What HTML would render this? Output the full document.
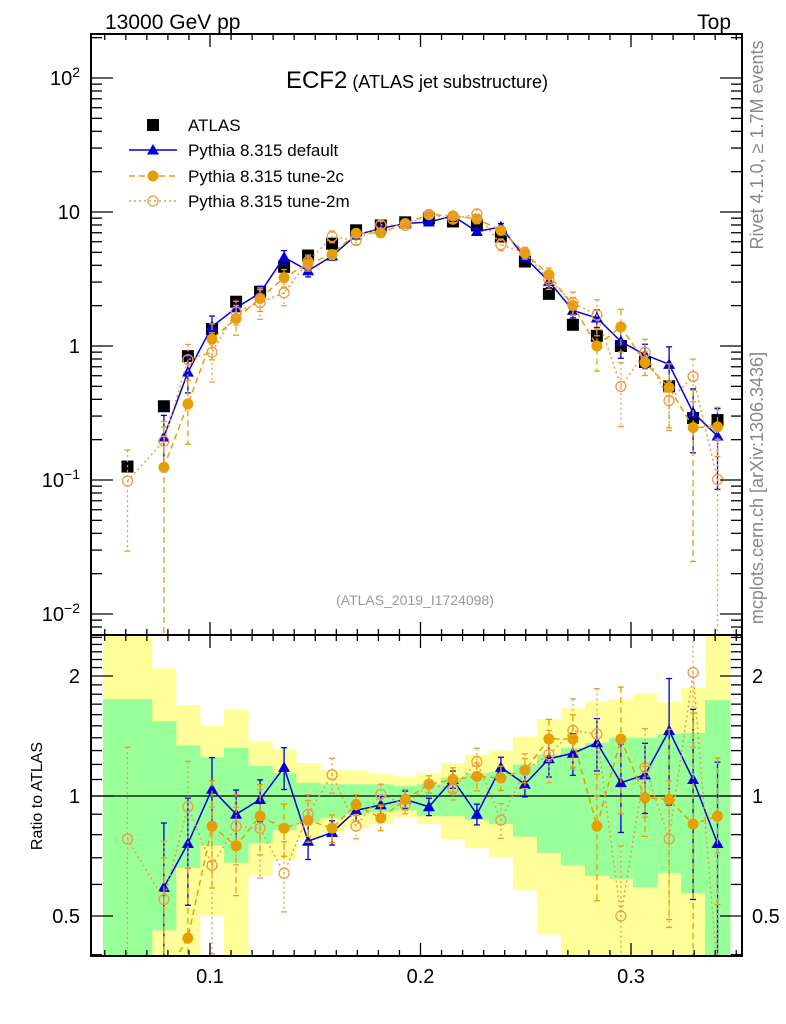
<!DOCTYPE html>
<html><head><meta charset="utf-8"><style>
html,body{margin:0;padding:0;background:#fff;}
svg{display:block;font-family:"Liberation Sans",Arial,sans-serif;}
</style></head><body>
<svg id="chart" width="786" height="1024" viewBox="0 0 786 1024" xmlns="http://www.w3.org/2000/svg">
<defs>
<clipPath id="cm"><rect x="91" y="34" width="651" height="601"/></clipPath>
<clipPath id="cr"><rect x="91" y="635" width="651" height="321"/></clipPath>
</defs>
<g id="bands" clip-path="url(#cr)"></g>
<g id="ratioMarks" clip-path="url(#cr)"></g>
<g id="mainMarks" clip-path="url(#cm)"></g>
<g id="axes"></g>
<text x="105" y="29" font-size="21">13000 GeV pp</text>
<text x="731" y="29" font-size="21" text-anchor="end">Top</text>
<text x="417" y="88" font-size="24" text-anchor="middle">ECF2<tspan font-size="18"> (ATLAS jet substructure)</tspan></text>
<text x="415" y="605" font-size="14" fill="#999" text-anchor="middle">(ATLAS_2019_I1724098)</text>
<text transform="translate(763,145) rotate(-90)" font-size="18" fill="#888" text-anchor="middle">Rivet 4.1.0, ≥ 1.7M events</text>
<text transform="translate(763,488) rotate(-90)" font-size="18" fill="#888" text-anchor="middle">mcplots.cern.ch [arXiv:1306.3436]</text>
<text transform="translate(42,796) rotate(-90)" font-size="16" text-anchor="middle">Ratio to ATLAS</text>
<g id="legend"></g>
</svg>
<script>
const edges=[0.0492,0.0724,0.0838,0.0952,0.1067,0.1181,0.1295,0.1409,0.1523,0.1637,0.1751,0.1872,0.1983,0.2097,0.2211,0.2325,0.2439,0.2553,0.2667,0.2781,0.2895,0.3009,0.3124,0.3238,0.3352,0.3470];
const atlas=[0.126,0.355,0.84,1.34,2.14,2.54,3.9,4.73,5.8,7.3,7.94,8.37,8.95,8.5,7.94,6.56,4.27,2.45,1.44,1.19,1.0,0.76,0.50,0.29,0.28];
const ratioDefault=[null,0.59,0.76,1.04,0.90,0.98,1.18,0.77,0.81,0.92,0.95,0.98,0.94,1.10,0.90,1.18,1.07,1.24,1.28,1.36,1.08,1.13,1.46,1.10,0.76];
const ratio2c=[null,0.35,0.44,0.84,0.75,0.89,0.83,0.87,0.83,0.95,0.88,0.98,1.07,1.10,1.12,1.11,1.16,1.39,1.39,0.84,1.39,0.99,0.98,0.85,0.89];
const ratio2m=[0.78,0.55,0.94,0.67,0.84,0.83,0.64,0.90,1.13,0.84,1.01,0.95,1.07,1.04,1.22,0.87,1.16,1.27,1.46,1.43,0.50,1.18,0.78,2.04,0.36];
const errDefault=[null,0.45,0.3,0.2,0.15,0.12,0.12,0.1,0.07,0.06,0.05,0.05,0.05,0.05,0.06,0.06,0.07,0.1,0.12,0.15,0.25,0.2,0.35,0.5,0.6];
const err2c=[null,1.0,0.5,0.3,0.25,0.2,0.15,0.12,0.08,0.06,0.07,0.06,0.05,0.07,0.08,0.07,0.07,0.12,0.15,0.35,0.35,0.2,0.5,0.9,0.4];
const err2m=[0.7,0.4,0.3,0.4,0.2,0.25,0.2,0.12,0.1,0.07,0.06,0.05,0.05,0.06,0.08,0.1,0.1,0.15,0.2,0.3,0.5,0.25,0.4,0.35,1.0];
const bandInnerHi=[1.75,1.54,1.34,1.25,1.32,1.19,1.14,1.08,1.07,1.07,1.07,1.06,1.07,1.11,1.14,1.15,1.20,1.27,1.32,1.36,1.40,1.40,1.43,1.44,1.74];
const bandInnerLo=[0.3,0.46,0.66,0.75,0.68,0.76,0.82,0.86,0.88,0.90,0.91,0.92,0.89,0.89,0.87,0.85,0.79,0.72,0.67,0.63,0.62,0.59,0.64,0.57,0.3];
const bandOuterHi=[3,2.09,1.69,1.50,1.65,1.37,1.31,1.21,1.16,1.16,1.14,1.12,1.14,1.21,1.27,1.30,1.41,1.56,1.66,1.73,1.75,1.81,1.72,1.87,3];
const bandOuterLo=[0.3,0.3,0.3,0.50,0.3,0.63,0.69,0.78,0.81,0.83,0.85,0.88,0.85,0.78,0.74,0.70,0.58,0.45,0.3,0.3,0.3,0.3,0.3,0.3,0.3];
const mainMajorTicks=[0.01,0.1,1,10,100];
const ratioMajorTicks=[0.5,1,2];
const xMajorTicks=[0.1,0.2,0.3];

const NS="http://www.w3.org/2000/svg";
const X=v=>210+(v-0.1)*2105;
const YM=v=>346-Math.log10(v)*134;
const YR=v=>796-Math.log2(v)*120;
function mk(parent,tag,attrs){const e=document.createElementNS(NS,tag);for(const k in attrs)e.setAttribute(k,attrs[k]);parent.appendChild(e);return e;}
const centers=atlas.map((_,i)=>(edges[i]+edges[i+1])/2);

const gb=document.getElementById('bands');
for(let i=0;i<atlas.length;i++){
  const x0=X(edges[i]),x1=X(edges[i+1]);
  let r=mk(gb,'rect',{x:x0,y:YR(bandOuterHi[i]),width:x1-x0+0.5,height:YR(bandOuterLo[i])-YR(bandOuterHi[i]),fill:'#ffff99'});
  
  
}
for(let i=0;i<atlas.length;i++){
  const x0=X(edges[i]),x1=X(edges[i+1]);
  let r=mk(gb,'rect',{x:x0,y:YR(bandInnerHi[i]),width:x1-x0+0.5,height:YR(bandInnerLo[i])-YR(bandInnerHi[i]),fill:'#99ff99'});
  
  
}
let one=mk(document.getElementById('ratioMarks'),'line',{x1:91,x2:742,y1:YR(1),y2:YR(1),stroke:'#000','stroke-width':1.2});



const series=[
 {name:'default',ratio:ratioDefault,err:errDefault,color:'#0000dd',dash:'',marker:'tri'},
 {name:'tune-2c',ratio:ratio2c,err:err2c,color:'#e69f00',dash:'6,4',marker:'dot'},
 {name:'tune-2m',ratio:ratio2m,err:err2m,color:'#ee9a44',dash:'2,3',marker:'circ'}
];
function marker(g,type,x,y,color,nm){
  let m;
  if(type==='tri')m=mk(g,'path',{d:`M${x},${y-6}L${x+6},${y+4.5}L${x-6},${y+4.5}Z`,fill:color});
  else if(type==='dot')m=mk(g,'circle',{cx:x,cy:y,r:5.5,fill:color});
  else if(type==='circ')m=mk(g,'circle',{cx:x,cy:y,r:5,fill:'none',stroke:color,'stroke-width':1.3});
  else m=mk(g,'rect',{x:x-6,y:y-6,width:12,height:12,fill:'#000'});
  
  
}
function drawSeries(g,Y,valFn,lo,hi,panel){
  series.forEach(s=>{
    const pts=[];
    for(let i=0;i<atlas.length;i++){
      const v=valFn(s,i); if(v==null)continue;
      const x=X(centers[i]),y=Y(v);
      pts.push(x+','+y);
      const e=s.err[i];
      const top=Y(v*(1+e)), bot=(v*(1-e)>lo)?Y(v*(1-e)):Y(lo);
      let eb=mk(g,'line',{x1:x,x2:x,y1:top,y2:bot,stroke:s.color,'stroke-width':1.3,'stroke-dasharray':s.dash});
      
      
      [top,bot].forEach(yy=>{let c=mk(g,'line',{x1:x-3,x2:x+3,y1:yy,y2:yy,stroke:s.color,'stroke-width':1.3});
        
        });
    }
    let pl=mk(g,'polyline',{points:pts.join(' '),fill:'none',stroke:s.color,'stroke-width':1.5,'stroke-dasharray':s.dash});
    
    
    for(let i=0;i<atlas.length;i++){
      const v=valFn(s,i); if(v==null)continue;
      marker(g,s.marker,X(centers[i]),Y(v),s.color,panel+'-point-'+s.name);
    }
  });
}
const gm=document.getElementById('mainMarks');
for(let i=0;i<atlas.length;i++){marker(gm,'sq',X(centers[i]),YM(atlas[i]),'#000','atlas-point');}
drawSeries(gm,YM,(s,i)=>s.ratio[i]==null?null:s.ratio[i]*atlas[i],1e-4,1e4,'main');
drawSeries(document.getElementById('ratioMarks'),YR,(s,i)=>s.ratio[i],0.3,10,'ratio');

const ga=document.getElementById('axes');
function ln(x1,y1,x2,y2,nm,w){let l=mk(ga,'line',{x1,y1,x2,y2,stroke:'#000','stroke-width':w||1.3});return l;}
function tx(x,y,s,anchor,nm,size){let t=mk(ga,'text',{x,y,'font-size':size||20,'text-anchor':anchor});t.textContent=s;return t;}
let fr=mk(ga,'rect',{x:91,y:34,width:651,height:922,fill:'none',stroke:'#000','stroke-width':2});


ln(91,635,742,635,'panel-divider',2);
for(let d=-3;d<=2;d++){for(let m=1;m<=9;m++){const v=m*Math.pow(10,d);const y=YM(v);if(y<34||y>635)continue;const L=m===1?22:11;ln(91,y,91+L,y,'main-y-tick');ln(742,y,742-L,y,'main-y-tick');}}
mainMajorTicks.forEach(v=>{const y=YM(v)+7;const e=Math.round(Math.log10(v));
  if(e===0)tx(80,y,'1','end','main-y-tick-label');
  else if(e===1)tx(80,y,'10','end','main-y-tick-label');
  else{let t=tx(80,y,'','end','main-y-tick-label');let a=document.createElementNS(NS,'tspan');a.textContent='10';t.appendChild(a);let b=document.createElementNS(NS,'tspan');b.textContent=String(e).replace('-','−');b.setAttribute('font-size','14');b.setAttribute('dy','-8');t.appendChild(b);}
});
[0.4,0.5,0.6,0.7,0.8,0.9,1,1.1,1.2,1.3,1.4,1.5,1.6,1.7,1.8,1.9,2,2.1,2.2,2.3,2.4,2.5].forEach(v=>{const y=YR(v);if(y<635||y>956)return;const L=ratioMajorTicks.includes(v)?22:11;ln(91,y,91+L,y,'ratio-y-tick');ln(742,y,742-L,y,'ratio-y-tick');});
ratioMajorTicks.forEach(v=>{tx(80,YR(v)+7,String(v),'end','ratio-y-tick-label');tx(752,YR(v)+7,String(v),'start','ratio-y-tick-label-right');});
for(let k=5;k<=35;k++){const v=k/100;const x=X(v);if(x<91||x>742)continue;const maj=k%10===0;const L=maj?13:6;
  ln(x,34,x,34+L,'x-tick');ln(x,635,x,635-L,'x-tick');ln(x,635,x,635+L,'x-tick');ln(x,956,x,956-L,'x-tick');}
xMajorTicks.forEach(v=>tx(X(v),983,String(v),'middle','x-tick-label'));

const gl=document.getElementById('legend');
function lt(y,s){let t=mk(gl,'text',{x:188,y:y+6,'font-size':17});t.textContent=s;}
marker(gl,'sq',153,125,'#000','legend-atlas-marker');lt(125,'ATLAS');
const ly=[150,176,201],lab=['Pythia 8.315 default','Pythia 8.315 tune-2c','Pythia 8.315 tune-2m'];
series.forEach((s,i)=>{let l=mk(gl,'line',{x1:129,x2:177,y1:ly[i],y2:ly[i],stroke:s.color,'stroke-width':1.5,'stroke-dasharray':s.dash});
  
  
  marker(gl,s.marker,153,ly[i],s.color,'legend-marker');lt(ly[i],lab[i]);});
</script>
</body></html>
